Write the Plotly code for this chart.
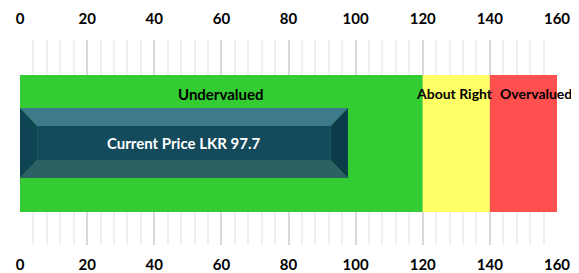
import plotly.graph_objects as go

# data
band_labels = ["Undervalued", "About Right", "Overvalued"]
band_starts = [0, 120, 140]
band_ends = [120, 140, 160]
band_colors = ["#33cc33", "#ffff66", "#ff5050"]
label_x = [60, 129.5, 153.6]
label_sizes = [15, 14, 14]
current_price = 97.7
price_label = "Current Price LKR 97.7"
tick_vals = [0, 20, 40, 60, 80, 100, 120, 140, 160]

band_y0, band_y1 = 0.161, 0.829
bar_y0, bar_y1 = 0.327, 0.668
dx, dy = 5.1, 0.088

fig = go.Figure()

for s, e, c in zip(band_starts, band_ends, band_colors):
    fig.add_trace(go.Bar(
        orientation="h", y=[(band_y0 + band_y1) / 2], x=[e - s], base=[s],
        width=[band_y1 - band_y0], marker=dict(color=c, line=dict(width=0)),
        hoverinfo="skip", showlegend=False))

x0, x1 = 0, current_price
faces = [
    ([x0, x1, x1 - dx, x0 + dx], [bar_y1, bar_y1, bar_y1 - dy, bar_y1 - dy], "#3e7a8b"),
    ([x0, x1, x1 - dx, x0 + dx], [bar_y0, bar_y0, bar_y0 + dy, bar_y0 + dy], "#2d6163"),
    ([x0, x0 + dx, x0 + dx, x0], [bar_y0, bar_y0 + dy, bar_y1 - dy, bar_y1], "#0f4454"),
    ([x1, x1 - dx, x1 - dx, x1], [bar_y0, bar_y0 + dy, bar_y1 - dy, bar_y1], "#0c3c4a"),
    ([x0 + dx, x1 - dx, x1 - dx, x0 + dx], [bar_y0 + dy, bar_y0 + dy, bar_y1 - dy, bar_y1 - dy], "#134a5c"),
]
for xs, ys, c in faces:
    fig.add_trace(go.Scatter(
        x=xs + [xs[0]], y=ys + [ys[0]], fill="toself", fillcolor=c,
        mode="lines", line=dict(width=0, color=c), hoverinfo="skip", showlegend=False))

fig.add_trace(go.Scatter(x=[0, 160], y=[0, 0], xaxis="x2", mode="markers",
                         marker=dict(opacity=0), hoverinfo="skip", showlegend=False))

FONT = "Lato"
for lab, lx, fs in zip(band_labels, label_x, label_sizes):
    fig.add_annotation(x=lx, y=0.737, text="<b>" + lab + "</b>", showarrow=False,
                       font=dict(size=fs, color="black", family=FONT))
fig.add_annotation(x=current_price / 2, y=(bar_y0 + bar_y1) / 2, text="<b>" + price_label + "</b>",
                   showarrow=False, font=dict(size=15, color="white", family=FONT))

tickfont = dict(size=15, color="black", family=FONT, weight="bold")
fig.update_layout(
    width=571, height=265,
    margin=dict(l=12, r=22, t=32, b=28),
    plot_bgcolor="white", paper_bgcolor="white",
    barmode="overlay",
    xaxis=dict(range=[0, 160], tickvals=tick_vals, showgrid=True, gridcolor="#d9d9d9",
               gridwidth=2, zeroline=False, showline=False, ticks="", automargin=False,
               tickfont=tickfont, ticklabelstandoff=9, side="bottom",
               minor=dict(dtick=4, tick0=0, showgrid=True, gridcolor="#f0f0f0", gridwidth=2)),
    xaxis2=dict(range=[0, 160], tickvals=tick_vals, overlaying="x", side="top",
                showgrid=False, zeroline=False, ticks="", automargin=False,
                tickfont=tickfont, ticklabelstandoff=12),
    yaxis=dict(range=[0, 1], visible=False, fixedrange=True, automargin=False),
)
fig.write_html("out.html")
